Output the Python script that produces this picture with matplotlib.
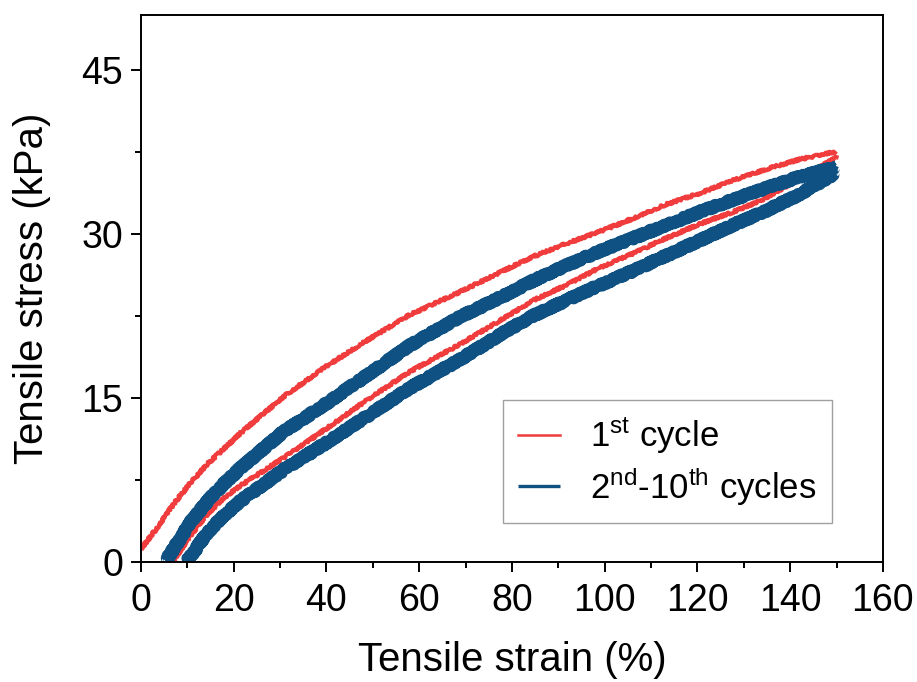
import matplotlib
matplotlib.use('Agg')
import matplotlib.pyplot as plt
from matplotlib.ticker import MultipleLocator

plt.rcParams['font.family'] = ['Liberation Sans', 'DejaVu Sans']
plt.rcParams['mathtext.fontset'] = 'custom'
plt.rcParams['mathtext.rm'] = 'Liberation Sans'
plt.rcParams['mathtext.it'] = 'Liberation Sans:italic'

# 1st cycle, loading branch (strain %, stress kPa)
red_load_x = [0, 3.6, 7.2, 10.8, 14.4, 18.0, 21.5, 30.7, 40.0, 48.5, 58.0, 68.8,
              79.5, 84.5, 91.7, 98.9, 106.1, 113.3, 120.5, 127.7, 134.8, 142.0, 149.6]
red_load_y = [1.2, 3.2, 5.4, 7.3, 9.0, 10.4, 11.8, 15.1, 17.9, 20.2, 22.6, 24.7,
              26.9, 27.9, 29.1, 30.2, 31.4, 32.7, 33.7, 34.9, 35.9, 36.8, 37.5]
# 1st cycle, unloading branch
red_unload_x = [150, 142.0, 133.5, 127.7, 120.5, 113.3, 106.1, 98.9, 91.7, 84.5, 79.5,
                68.8, 58.0, 49.4, 40.0, 30.7, 21.5, 18.0, 14.4, 10.8, 6.8]
red_unload_y = [37.0, 35.0, 33.0, 32.0, 30.9, 29.6, 28.2, 26.9, 25.3, 23.9, 22.6,
                19.9, 17.4, 15.0, 12.2, 9.5, 7.0, 5.9, 4.4, 2.5, 0]

# 2nd-10th cycles (band centre), loading
blue_load_x = [5.2, 10.8, 14.4, 18.0, 21.5, 30.7, 40.0, 48.5, 58.0, 68.8, 79.5, 84.5,
               91.7, 98.9, 106.1, 113.3, 120.5, 127.7, 134.8, 142.0, 150.0]
blue_load_y = [0, 3.7, 5.6, 7.2, 8.6, 11.9, 14.5, 17.0, 19.8, 22.4, 24.6, 25.7,
               27.1, 28.4, 29.6, 30.8, 32.0, 33.1, 34.2, 35.2, 36.1]
# 2nd-10th cycles, unloading
blue_unload_x = [150, 142.0, 134.8, 127.7, 120.5, 113.3, 106.1, 98.9, 91.7, 84.5, 79.5,
                 68.8, 58.0, 49.4, 40.0, 30.7, 21.5, 18.0, 14.4, 9.8]
blue_unload_y = [35.6, 33.6, 32.1, 30.8, 29.4, 28.0, 26.6, 25.3, 23.9, 22.5, 21.3,
                 18.5, 15.9, 13.5, 10.9, 8.4, 5.6, 4.3, 2.7, 0]

red = '#F03C3C'
blue = '#0E5182'

fig = plt.figure(figsize=(9.17, 6.82), dpi=100)
ax = fig.add_axes([0.1538, 0.176, 0.809, 0.802])

l1, = ax.plot(red_load_x, red_load_y, color=red, lw=3, label='$1^{\\rm st}$ cycle')
l2, = ax.plot(red_unload_x, red_unload_y, color=red, lw=3)
l3, = ax.plot(blue_load_x, blue_load_y, color=blue, lw=8.5, solid_capstyle='butt',
              label='$2^{\\rm nd}$-$10^{\\rm th}$ cycles')
l4, = ax.plot(blue_unload_x, blue_unload_y, color=blue, lw=8.5, solid_capstyle='butt')
for ln in (l1, l2):
    ln.set_sketch_params(scale=1.2, length=2, randomness=3)
for ln in (l3, l4):
    ln.set_sketch_params(scale=1.5, length=2, randomness=3)

ax.set_xlim(0, 160)
ax.set_ylim(0, 50)
ax.xaxis.set_major_locator(MultipleLocator(20))
ax.xaxis.set_minor_locator(MultipleLocator(10))
ax.yaxis.set_major_locator(MultipleLocator(15))
ax.yaxis.set_minor_locator(MultipleLocator(7.5))
ax.tick_params(which='major', direction='out', length=7, width=1.4, labelsize=27)
ax.tick_params(axis='x', which='major', pad=8)
ax.tick_params(axis='y', which='major', pad=6)
ax.tick_params(which='minor', direction='out', length=4.5, width=1.4)
for sp in ax.spines.values():
    sp.set_linewidth(1.4)

ax.set_xlabel('Tensile strain (%)', fontsize=29, labelpad=16)
ax.set_ylabel('Tensile stress (kPa)', fontsize=29, labelpad=22)

leg = ax.legend(handles=[l1, l3], loc='lower right', bbox_to_anchor=(0.931, 0.071),
                borderaxespad=0, fontsize=25, frameon=True, fancybox=False,
                edgecolor='#888888', handlelength=1.2, handletextpad=0.85,
                labelspacing=0.25, borderpad=0.45)
leg.get_frame().set_linewidth(1.0)
leg.get_lines()[0].set_linewidth(1.8)
leg.get_lines()[1].set_linewidth(2.4)
for h in leg.get_lines():
    h.set_sketch_params(None)

fig.savefig('out.png', dpi=100)
